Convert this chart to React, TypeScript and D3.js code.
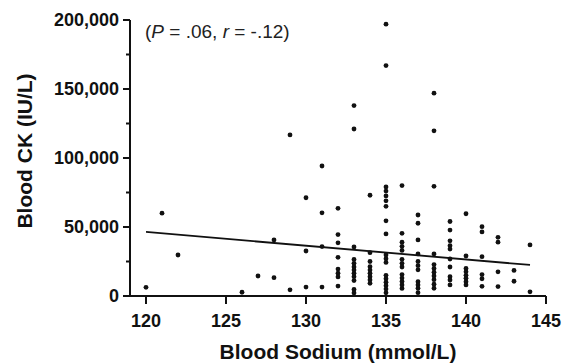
import React from "react";
import * as d3 from "d3";

// Sodium levels (mmol/L) and the CK values (IU/L) observed at each level
const sodiumLevels: number[] = [120, 121, 122, 126, 127, 128, 129, 130, 131, 132, 133, 134, 135, 136, 137, 138, 139, 140, 141, 142, 143, 144];
const ckBySodium: number[][] = [
  [6300],
  [60000],
  [29700],
  [2700],
  [14500],
  [40600, 13300],
  [116700, 4500],
  [71200, 32600, 6500],
  [94200, 60300, 35800, 6500],
  [63500, 44500, 38500, 28000, 19500, 16500, 13800, 7200],
  [138000, 121000, 35500, 26500, 23700, 21000, 18800, 16400, 14000, 11200, 4700, 2200],
  [73000, 31400, 25000, 21200, 18800, 16400, 14000, 11600, 9200],
  [197000, 167000, 79000, 76000, 72500, 69000, 65000, 54500, 45000, 29700, 27000, 24300, 15000, 12500, 10000, 7500, 5000, 2300],
  [80000, 45400, 39000, 36000, 33000, 26600, 23700, 21000, 15500, 13000, 10500, 8000, 5500],
  [58700, 52700, 40600, 30500, 25000, 22000, 19000, 10400, 8000, 5600, 2400],
  [147000, 119700, 79500, 30500, 22800, 20000, 17300, 14500, 11800, 8500, 5600],
  [54000, 47800, 40000, 36500, 34000, 26800, 21000, 14000, 11600, 8000],
  [59600, 29000, 20000, 17500, 15000, 12800, 10400, 8000],
  [50200, 46400, 28500, 15500, 12500, 7000],
  [42500, 39000, 17500, 6800],
  [18500, 10700],
  [37000, 3000],
];

// Regression line endpoints [sodium, CK]
const fitLine: [number, number][] = [
  [120, 46400],
  [144, 22500],
];

const xTicks: number[] = [120, 125, 130, 135, 140, 145];
const yTicks: number[] = [0, 50000, 100000, 150000, 200000];
const yMinorTicks: number[] = [25000, 75000, 125000, 175000];

const xTitle = "Blood Sodium (mmol/L)";
const yTitle = "Blood CK (IU/L)";

const FONT = "Arial, 'Liberation Sans', Helvetica, sans-serif";

export default function App() {
  const W = 565;
  const H = 363;
  const x = d3.scaleLinear().domain([119, 145]).range([130, 546]);
  const y = d3.scaleLinear().domain([0, 200000]).range([296, 20]);
  const fmt = d3.format(",");

  const points: { sx: number; ck: number }[] = [];
  sodiumLevels.forEach((s, i) => {
    ckBySodium[i].forEach((ck) => points.push({ sx: s, ck }));
  });

  const line = d3
    .line<[number, number]>()
    .x((d) => x(d[0]))
    .y((d) => y(d[1]));

  return (
    <svg
      width={W}
      height={H}
      style={{ position: "absolute", left: 0, top: 0, background: "#fff" }}
      fontFamily={FONT}
    >
      <rect width={W} height={H} fill="#fff" />
      {/* Y axis */}
      <line x1={x(119)} x2={x(119)} y1={y(200000)} y2={y(0)} stroke="#111" strokeWidth={2} />
      {yTicks.map((t) => (
        <g key={"yt" + t}>
          <line x1={x(119) - 7} x2={x(119)} y1={y(t)} y2={y(t)} stroke="#111" strokeWidth={2} />
          <text
            x={x(119) - 11}
            y={y(t)}
            textAnchor="end"
            dominantBaseline="central"
            fontSize={18}
            fontWeight="bold"
            fill="#111"
          >
            {fmt(t)}
          </text>
        </g>
      ))}
      {yMinorTicks.map((t) => (
        <line key={"ym" + t} x1={x(119) - 4} x2={x(119)} y1={y(t)} y2={y(t)} stroke="#111" strokeWidth={2} />
      ))}
      {/* X axis */}
      <line x1={x(119) - 1} x2={x(145)} y1={y(0)} y2={y(0)} stroke="#111" strokeWidth={2} />
      {xTicks.map((t) => (
        <g key={"xt" + t}>
          <line x1={x(t)} x2={x(t)} y1={y(0)} y2={y(0) + 8} stroke="#111" strokeWidth={2} />
          <text x={x(t)} y={327} textAnchor="middle" fontSize={18} fontWeight="bold" fill="#111">
            {t}
          </text>
        </g>
      ))}
      {/* Titles */}
      <text x={338} y={359} textAnchor="middle" fontSize={21} fontWeight="bold" fill="#111">
        {xTitle}
      </text>
      <text
        transform="translate(32,151) rotate(-90)"
        textAnchor="middle"
        fontSize={21}
        fontWeight="bold"
        fill="#111"
      >
        {yTitle}
      </text>
      {/* Annotation */}
      <text x={145} y={38} fontSize={19} fill="#222">
        (<tspan fontStyle="italic">P</tspan> = .06, <tspan fontStyle="italic">r</tspan> = -.12)
      </text>
      {/* Regression line */}
      <path d={line(fitLine) || ""} fill="none" stroke="#111" strokeWidth={1.8} />
      {/* Points */}
      {points.map((p, i) => (
        <circle key={i} cx={x(p.sx)} cy={y(p.ck)} r={2.4} fill="#111" />
      ))}
    </svg>
  );
}
